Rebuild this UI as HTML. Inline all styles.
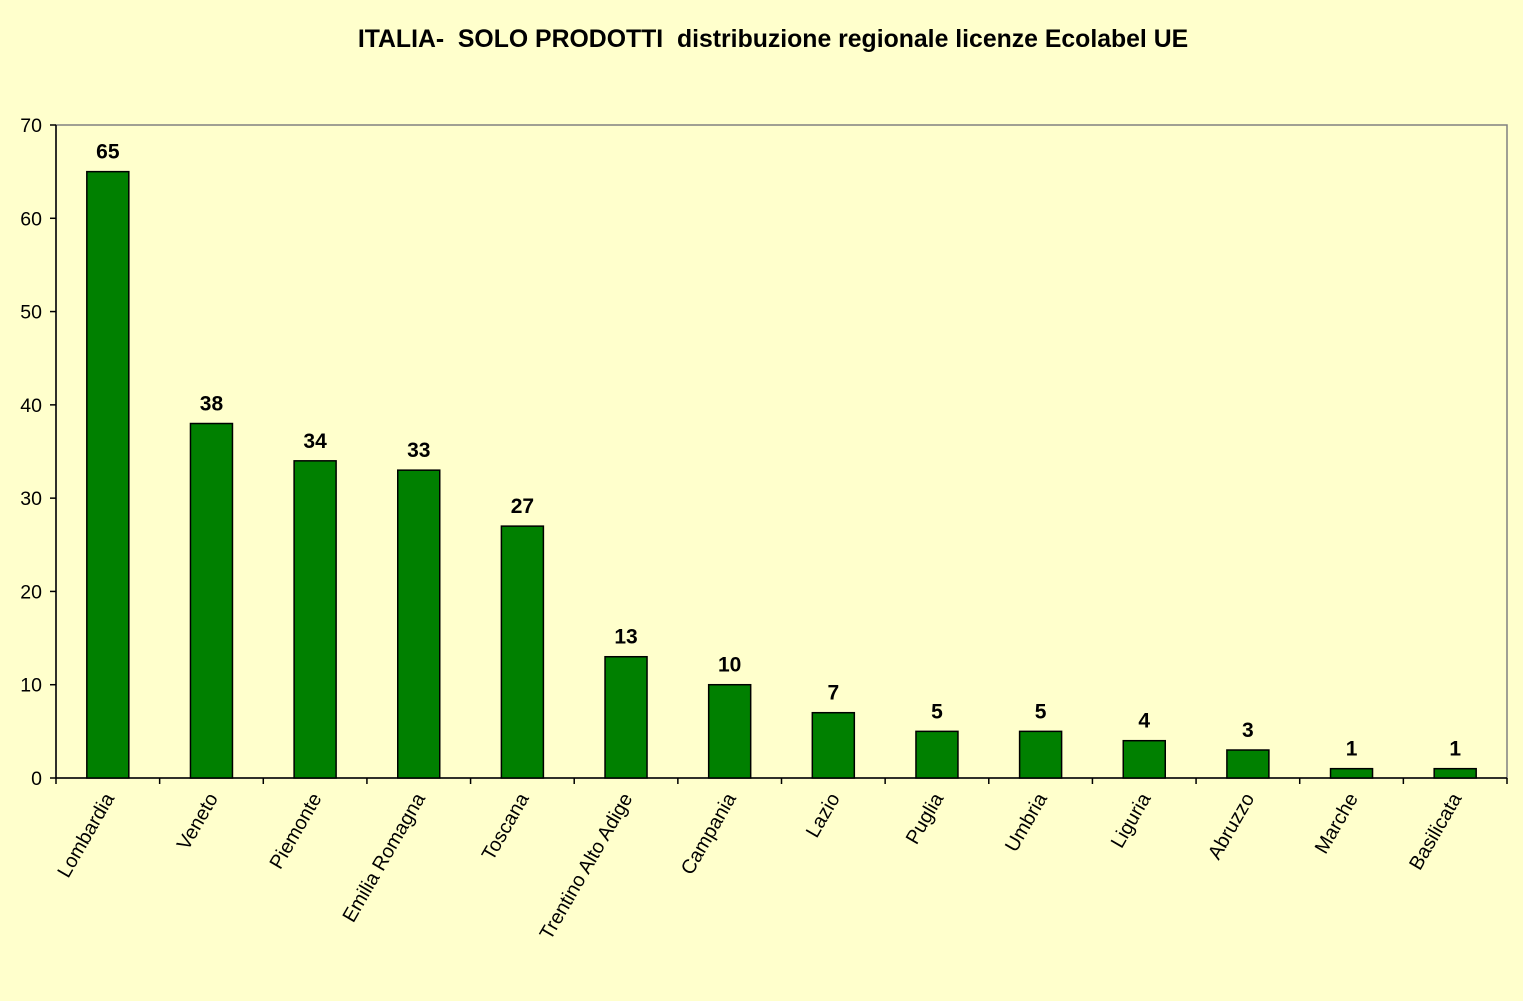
<!DOCTYPE html>
<html><head><meta charset="utf-8">
<style>
html,body{margin:0;padding:0;background:#FFFFCC;}
svg{display:block;font-family:"Liberation Sans",Arial,sans-serif;}
</style></head>
<body>
<svg id="chart" width="1523" height="1001">
<rect x="0" y="0" width="1523" height="1001" fill="#FFFFCC"/>
<text x="773" y="47" text-anchor="middle" font-size="24.8" font-weight="bold" fill="#000" style="white-space:pre" xml:space="preserve">ITALIA-  SOLO PRODOTTI  distribuzione regionale licenze Ecolabel UE</text>
<rect x="56" y="125" width="1451" height="653" fill="#FFFFCC" stroke="#808080" stroke-width="1.5"/>
<g id="axes"></g>
<g id="bars"></g>
</svg>
<script>
const categories=["Lombardia","Veneto","Piemonte","Emilia Romagna","Toscana","Trentino Alto Adige","Campania","Lazio","Puglia","Umbria","Liguria","Abruzzo","Marche","Basilicata"];
const values=[65,38,34,33,27,13,10,7,5,5,4,3,1,1];
const yTicks=[0,10,20,30,40,50,60,70];
const L=56,R=1507,T=125,B=778,yMax=70;
const ns="http://www.w3.org/2000/svg";
const bw=(R-L)/categories.length;
function y(v){return B-(v/yMax)*(B-T);}
function xc(i){return L+bw*(i+0.5);}
function mk(tag,attrs,parent){const e=document.createElementNS(ns,tag);for(const k in attrs)e.setAttribute(k,attrs[k]);parent.appendChild(e);return e;}
const axes=document.getElementById('axes'),bars=document.getElementById('bars');
const ya=mk('line',{x1:L,y1:T,x2:L,y2:B,stroke:'#000','stroke-width':1.5},axes);


const xa=mk('line',{x1:L,y1:B,x2:R,y2:B,stroke:'#000','stroke-width':1.5},axes);


yTicks.forEach(t=>{
 const tk=mk('line',{x1:L-6,y1:y(t),x2:L,y2:y(t),stroke:'#000','stroke-width':1.5},axes);
 
 
 const lb=mk('text',{x:L-14,y:y(t)+7,'text-anchor':'end','font-size':19.5},axes);
 lb.textContent=t;
 
 
});
for(let i=0;i<=categories.length;i++){
 const x=L+bw*i;
 const tk=mk('line',{x1:x,y1:B,x2:x,y2:B+6,stroke:'#000','stroke-width':1.5},axes);
 
 
}
categories.forEach((c,i)=>{
 const v=values[i],w=42,x=xc(i)-w/2;
 const r=mk('rect',{x:x,y:y(v),width:w,height:B-y(v),fill:'#008000',stroke:'#000','stroke-width':1.5},bars);
 
 
 const vl=mk('text',{x:xc(i),y:y(v)-13,'text-anchor':'middle','font-size':21,'font-weight':'bold'},bars);
 vl.textContent=v;
 
 
 const lx=xc(i)+7,ly=B+20;
 const xl=mk('text',{x:lx,y:ly,'text-anchor':'end','font-size':19.8,transform:`rotate(-60 ${lx} ${ly})`},axes);
 xl.textContent=c;
 
 
});
</script>
</body></html>
